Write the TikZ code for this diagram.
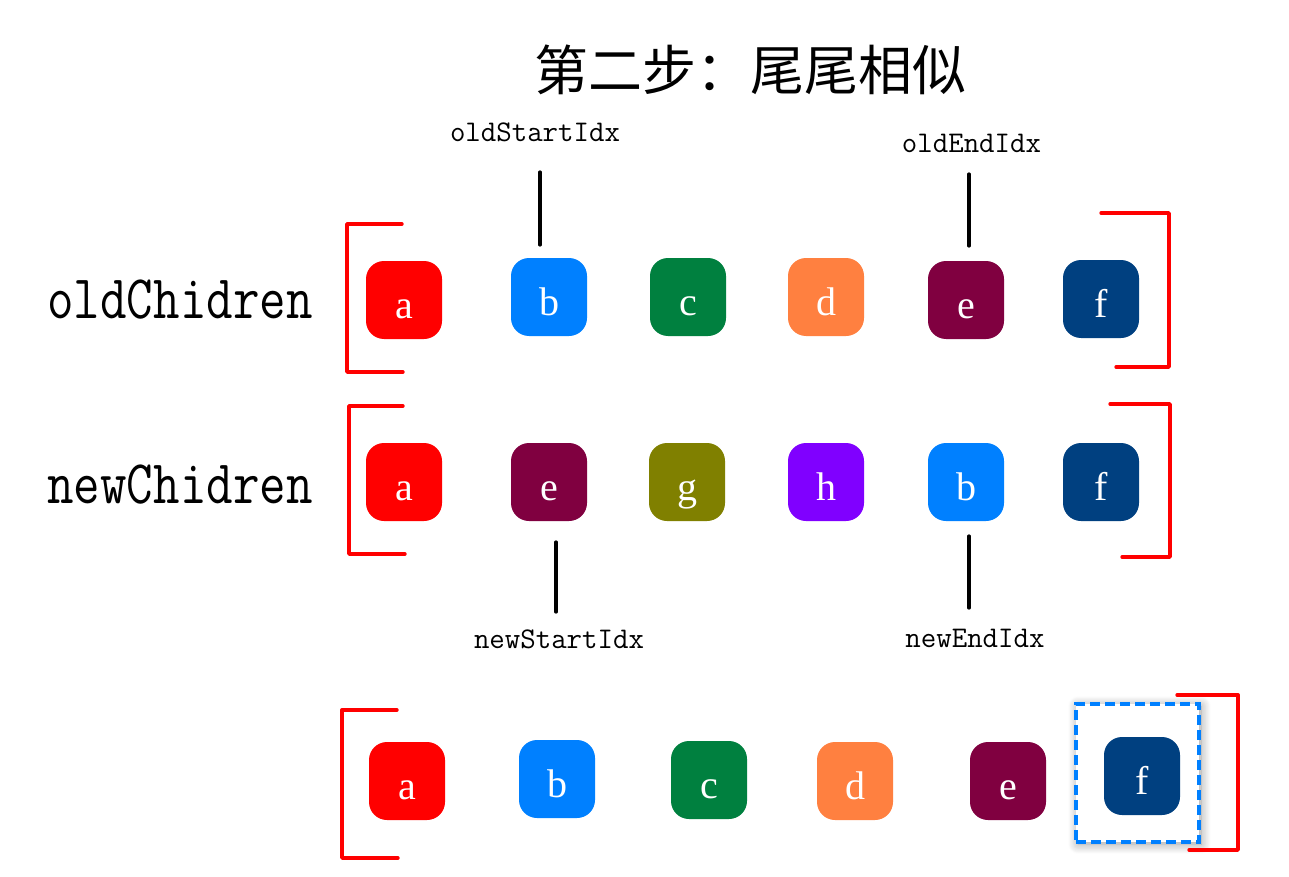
\documentclass[tikz,border=0pt]{standalone}
\usepackage{fontspec}
\newfontfamily\cjk{Noto Sans CJK SC}
\newfontfamily\letterfont{Liberation Serif}
\usetikzlibrary{shadows.blur}
\definecolor{cRed}{HTML}{FF0000}
\definecolor{cBlue}{HTML}{0080FF}
\definecolor{cGreen}{HTML}{00803F}
\definecolor{cOrange}{HTML}{FF8040}
\definecolor{cMaroon}{HTML}{800040}
\definecolor{cNavy}{HTML}{004080}
\definecolor{cOlive}{HTML}{808000}
\definecolor{cPurple}{HTML}{8000FF}
\begin{document}
\begin{tikzpicture}[x=1pt,y=-1pt,
  item/.style={rounded corners=18pt, minimum width=76pt, minimum height=78pt,
    inner sep=0pt, text height=36pt, text depth=0pt, text=white,
    font=\letterfont\fontsize{40}{40}\selectfont},
  bracket/.style={draw=cRed, line width=3.4pt, line cap=round, line join=round},
  ptr/.style={draw=black, line width=3.2pt, line cap=round},
  idx/.style={anchor=base, inner sep=0pt, font=\ttfamily\fontsize{30}{30}\selectfont},
  rowlbl/.style={anchor=base, inner sep=0pt, font=\ttfamily\fontsize{62}{62}\selectfont}
]
\useasboundingbox (0,0) rectangle (1289,877);

% title
\node[anchor=base, inner sep=0pt, font=\cjk\fontsize{54}{54}\selectfont] (title) at (750,91) {第二步：尾尾相似};

% row labels
\node[rowlbl] (oldlbl) at (180,318) {\scalebox{0.83}[1]{oldChidren}};
\node[rowlbl] (newlbl) at (180,503) {\scalebox{0.83}[1]{newChidren}};

% row 1
\node[item, fill=cRed]    (o1) at (404,300) {a};
\node[item, fill=cBlue]   (o2) at (549,297) {b};
\node[item, fill=cGreen]  (o3) at (688,297) {c};
\node[item, fill=cOrange] (o4) at (826,297) {d};
\node[item, fill=cMaroon] (o5) at (966,300) {e};
\node[item, fill=cNavy]   (o6) at (1101,299) {f};

% row 2
\node[item, fill=cRed]    (n1) at (404,482) {a};
\node[item, fill=cMaroon] (n2) at (549,482) {e};
\node[item, fill=cOlive]  (n3) at (687,482) {g};
\node[item, fill=cPurple] (n4) at (826,482) {h};
\node[item, fill=cBlue]   (n5) at (966,482) {b};
\node[item, fill=cNavy]   (n6) at (1101,482) {f};

% row 3
\node[item, fill=cRed]    (r1) at (407,781) {a};
\node[item, fill=cBlue]   (r2) at (557,779) {b};
\node[item, fill=cGreen]  (r3) at (709,780) {c};
\node[item, fill=cOrange] (r4) at (855,781) {d};
\node[item, fill=cMaroon] (r5) at (1008,781) {e};
\node[draw=cBlue, line width=3.4pt, dash pattern=on 10pt off 5pt, fill=white,
      blur shadow={shadow xshift=2pt, shadow yshift=-2pt, shadow blur radius=10pt, shadow opacity=40, shadow blur steps=12},
      minimum width=123pt, minimum height=138pt, inner sep=0pt] (sel) at (1137.5,773) {};
\node[item, fill=cNavy]   (r6) at (1142,776) {f};

% index labels
\node[idx] (os) at (535,142) {oldStartIdx};
\node[idx] (oe) at (971.5,153) {oldEndIdx};
\node[idx] (ns) at (559,648) {newStartIdx};
\node[idx] (ne) at (975,647) {newEndIdx};

% pointer lines
\coordinate (os1) at (540,172); \coordinate (os2) at (540,245);
\coordinate (oe1) at (969,174); \coordinate (oe2) at (969,246);
\coordinate (ns1) at (556,542); \coordinate (ns2) at (556,612);
\coordinate (ne1) at (969,536); \coordinate (ne2) at (969,608);
\draw[ptr] (os1) -- (os2);
\draw[ptr] (oe1) -- (oe2);
\draw[ptr] (ns1) -- (ns2);
\draw[ptr] (ne1) -- (ne2);

% brackets
\draw[bracket] (402,224) -- (347,224) -- (347,372) -- (403,372);
\draw[bracket] (1101,213) -- (1169,213) -- (1169,367) -- (1116,367);
\draw[bracket] (403,406) -- (349,406) -- (349,554) -- (405,554);
\draw[bracket] (1110,404) -- (1170,404) -- (1170,557) -- (1122,557);
\draw[bracket] (397,710) -- (342,710) -- (342,858) -- (398,858);
\draw[bracket] (1177,695) -- (1238,695) -- (1238,850) -- (1189,850);
\end{tikzpicture}
\end{document}
